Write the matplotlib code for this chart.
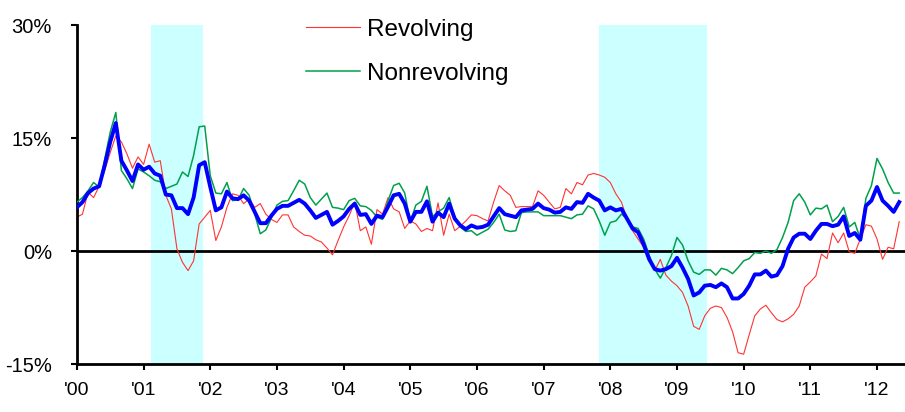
#! /usr/bin/env python3
# coding: utf-8

"""
    Croissance annuelle du crédit à la consommation (revolving / non revolving / total)
    - données mensuelles janv. 2000 -> mai 2012, en %
    - zones ombrées : récessions
"""

import numpy as np
import matplotlib
matplotlib.use("Agg")
import matplotlib.pyplot as plt


########################################################################################################################
#             Données                                                                                                  #
########################################################################################################################
debut = 2000

revolving = [
    4.5, 4.9, 7.8, 7.1, 8.6, 10.7, 13.1, 15.3, 14.5, 12.9, 11.0, 12.5, 11.5, 14.2, 11.8, 12.0, 7.4, 5.6, 0.3, -1.5,
    -2.6, -1.3, 3.6, 4.5, 5.4, 1.4, 3.2, 5.8, 7.6, 7.4, 6.3, 6.9, 5.8, 6.3, 4.9, 4.2, 3.8, 4.8,
    4.8, 3.2, 2.6, 2.1, 2.0, 1.5, 1.2, 0.4, -0.5, 1.4, 3.2, 4.7, 6.5, 2.7, 3.2, 0.9, 5.5, 4.9, 7.1, 5.6,
    5.2, 3.0, 4.0, 3.6, 2.6, 3.0, 2.7, 6.4, 2.1, 4.9, 2.7, 3.3, 4.0, 4.8, 4.7, 4.3,
    4.0, 6.5, 8.7, 8.0, 7.4, 5.8, 5.9, 5.9, 5.9, 8.0, 7.4, 6.5, 5.6, 5.8, 8.3, 7.6, 9.1, 8.8, 10.1, 10.3,
    10.1, 9.8, 9.1, 7.6, 6.5, 4.3, 2.7, 1.6, 0.5, -1.1, -2.6, -1.1, -3.2, -4.0, -4.6, -5.5, -7.3,
    -10.0, -10.4, -8.6, -7.6, -7.3, -7.5, -8.8, -10.7, -13.5, -13.7, -11.1, -8.6, -7.7, -7.2, -8.2, -9.1, -9.4, -9.0,
    -8.4, -7.3, -4.8, -4.1, -3.3, -0.4, -1.0, 2.4, 1.1, 2.4, -0.1, -0.3, 1.6, 3.5, 3.3, 1.6, -1.1, 0.5, 0.3, 3.9,
]

nonrevolving = [
    6.5, 7.1, 8.0, 9.1, 8.5, 12.2, 15.8, 18.4, 10.7, 9.6, 8.3, 10.9, 10.5, 10.0, 9.4, 9.2, 8.3, 8.6, 8.9, 10.5,
    9.9, 12.7, 16.5, 16.6, 10.0, 7.7, 7.6, 9.1, 6.7, 6.8, 8.3, 7.4, 4.9, 2.3, 2.8, 4.4, 6.1, 6.6,
    6.7, 8.0, 9.4, 8.9, 7.1, 6.1, 6.9, 7.7, 5.8, 5.7, 5.5, 6.7, 7.0, 6.0, 5.9, 5.4, 4.5, 4.2, 6.7, 8.7,
    9.0, 7.7, 3.9, 6.1, 6.6, 8.6, 4.6, 5.2, 5.7, 7.1, 4.5, 3.2, 2.6, 2.7, 2.1, 2.5,
    2.9, 3.8, 4.9, 2.8, 2.6, 2.7, 5.1, 5.2, 5.2, 5.2, 4.7, 4.7, 4.7, 4.7, 4.5, 4.3, 4.8, 4.9, 6.0, 5.6,
    4.0, 2.1, 3.8, 4.0, 4.9, 4.3, 3.2, 3.0, 1.6, -0.6, -2.4, -3.6, -2.2, -0.6, 1.8, 0.8, -1.3,
    -2.8, -3.1, -2.5, -2.5, -3.2, -2.3, -2.5, -3.0, -2.2, -1.3, -1.0, -0.2, -0.3, 0.0, -0.3, 0.2, 1.8, 3.8,
    6.7, 7.6, 6.5, 4.8, 5.7, 5.6, 6.1, 3.9, 4.6, 5.8, 3.2, 3.8, 1.6, 7.0, 8.7, 12.3, 10.9, 9.1, 7.7, 7.7,
]

total = [
    5.8, 6.5, 7.7, 8.3, 8.6, 11.4, 14.5, 17.0, 12.0, 10.7, 9.3, 11.5, 10.8, 11.2, 10.3, 10.0, 7.5, 7.4, 5.7, 5.7,
    4.9, 7.1, 11.4, 11.8, 8.5, 5.4, 5.8, 7.9, 7.0, 6.9, 7.4, 6.7, 5.2, 3.7, 3.7, 4.7, 5.6, 6.0,
    6.0, 6.4, 6.8, 6.3, 5.4, 4.4, 4.8, 5.2, 3.5, 4.0, 4.6, 5.6, 6.3, 4.8, 4.9, 3.6, 4.7, 4.5, 5.9, 7.4,
    7.6, 6.3, 3.9, 5.2, 5.2, 6.6, 3.9, 5.1, 4.5, 6.3, 4.3, 3.4, 2.9, 3.4, 3.1, 3.2,
    3.5, 4.6, 5.7, 4.9, 4.7, 4.5, 5.4, 5.5, 5.6, 6.3, 5.7, 5.5, 5.1, 5.2, 5.8, 5.6, 6.5, 6.4, 7.6, 7.1,
    6.7, 5.4, 5.8, 5.4, 5.6, 4.3, 3.0, 2.5, 0.9, -1.1, -2.4, -2.6, -2.4, -2.0, -0.9, -2.2, -3.7,
    -5.9, -5.5, -4.6, -4.5, -4.8, -4.3, -4.8, -6.3, -6.3, -5.7, -4.6, -3.1, -3.1, -2.6, -3.4, -3.2, -2.0, 0.3,
    1.8, 2.3, 2.3, 1.6, 2.7, 3.6, 3.6, 3.3, 3.5, 4.6, 2.0, 2.4, 1.5, 6.0, 6.7, 8.5, 6.7, 6.0, 5.2, 6.5,
]

# récessions (début, fin) en années décimales
recessions = [(2001.11, 2001.89), (2007.83, 2009.45)]

annees = list(range(2000, 2013))
etiquettes = ["'{:02d}".format(a % 100) for a in annees]
graduations_y = [-15, 0, 15, 30]


########################################################################################################################
#             Graphique                                                                                                #
########################################################################################################################
if __name__ == '__main__':
    plt.rcParams['font.family'] = ['Liberation Sans', 'DejaVu Sans']

    mois = debut + np.arange(len(total)) / 12.0

    fig = plt.figure(figsize=(9.05, 4.12), dpi=100)
    ax = fig.add_axes([0.085, 0.1165, 0.915, 0.8225])

    for d, f in recessions:
        ax.axvspan(d, f, color='#CCFFFF', lw=0, zorder=0)

    ax.axhline(0, color='black', lw=2, zorder=1)

    ax.plot(mois, revolving, color='#FF3333', lw=0.8, label="Revolving", zorder=2)
    ax.plot(mois, nonrevolving, color='#00A04E', lw=1.1, label="Nonrevolving", zorder=3)
    ax.plot(mois, total, color='#0000FF', lw=2.8, zorder=4)

    ax.set_xlim(2000, 2012.42)
    ax.set_ylim(-15, 30)

    ax.set_xticks(annees)
    ax.set_xticklabels(etiquettes)
    ax.set_yticks(graduations_y)
    ax.set_yticklabels(["{}%".format(v) for v in graduations_y])

    for cote in ['top', 'right']:
        ax.spines[cote].set_visible(False)
    for cote in ['left', 'bottom']:
        ax.spines[cote].set_linewidth(2)

    ax.tick_params(axis='y', direction='out', length=4, width=1.5, labelsize=14.5, pad=14)
    ax.tick_params(axis='x', direction='out', length=4, width=1.5, labelsize=14, pad=9)

    ax.legend(loc='upper left', bbox_to_anchor=(0.265, 1.048), frameon=False, fontsize=17.5,
              handlelength=2.2, handletextpad=0.3, labelspacing=0.92, borderaxespad=0)

    plt.savefig('out.png', dpi=100)
